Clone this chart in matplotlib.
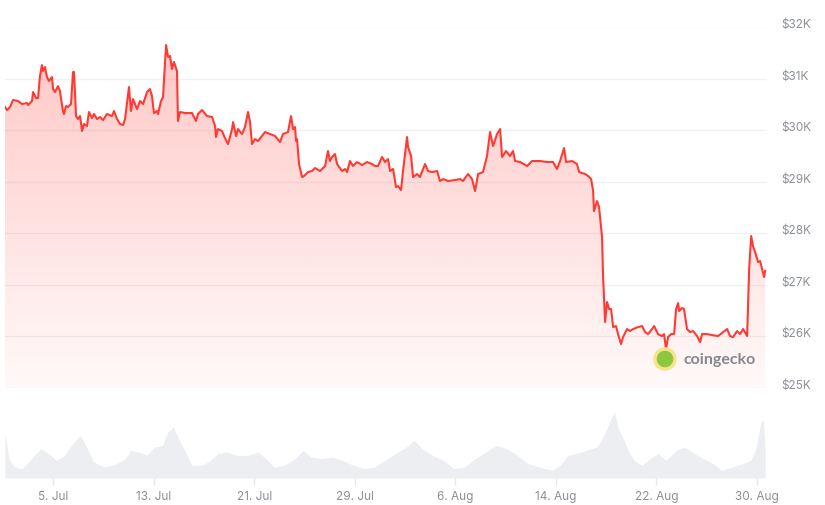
#!/usr/bin/env python3
"""
BTC 价格走势图（coingecko 风格）：上方价格折线 + 渐变填充，下方成交量面积图
"""

# ============================================================================
# 配置区域
# ============================================================================

OUTPUT_FILE = "out.png"
FIG_SIZE = (8.25, 5.06)
DPI = 100

LINE_COLOR = "#ff3a33"
GRID_COLOR = "#f1f1f3"
VOLUME_COLOR = "#eceef2"
TEXT_COLOR = "#8b8f97"
FONT = ["Inter", "DejaVu Sans"]

Y_MIN, Y_MAX = 25000, 32000
START_DATE = "2023-07-01"

# ============================================================================
# 数据
# ============================================================================

# 价格：距 7 月 1 日 00:00 的天数
price_days = [
    0.18, 0.34, 0.58, 0.82, 1.21, 1.53, 1.93, 2.01, 2.33, 2.41, 2.65, 2.81, 2.96, 3.12,
    3.20, 3.36, 3.52, 3.68, 3.92, 4.00, 4.16, 4.40, 4.55, 4.79, 4.87, 5.03, 5.19, 5.43,
    5.59, 5.67, 5.83, 5.99, 6.15, 6.31, 6.46, 6.70, 6.86, 7.10, 7.26, 7.50, 7.74, 7.98,
    8.29, 8.69, 8.85, 9.09, 9.33, 9.57, 9.73, 10.04, 10.20, 10.36, 10.68, 10.92, 11.16,
    11.48, 11.71, 11.87, 12.03, 12.27, 12.35, 12.59, 12.75, 12.91, 12.99, 13.15, 13.31,
    13.46, 13.62, 13.86, 13.94, 14.10, 14.50, 15.06, 15.37, 15.53, 15.85, 16.25, 16.65,
    16.89, 16.96, 17.12, 17.44, 17.68, 17.92, 18.24, 18.32, 18.56, 18.71, 19.03, 19.27,
    19.51, 19.67, 19.83, 20.07, 20.31, 20.62, 20.86, 21.26, 21.66, 22.06, 22.29, 22.69,
    22.93, 23.09, 23.25, 23.33, 23.41, 23.57, 23.81, 23.97, 24.28, 24.60, 24.84, 25.24,
    25.64, 25.87, 26.03, 26.19, 26.43, 26.59, 26.99, 27.23, 27.39, 27.62, 27.86, 28.18,
    28.58, 28.98, 29.37, 29.61, 29.85, 30.17, 30.41, 30.65, 30.81, 31.05, 31.28, 31.44,
    31.68, 31.84, 32.16, 32.24, 32.48, 32.64, 32.96, 33.19, 33.59, 33.83, 34.15, 34.55,
    34.78, 35.02, 35.42, 35.98, 36.38, 36.61, 37.01, 37.33, 37.57, 37.81, 38.20, 38.52,
    38.76, 39.00, 39.32, 39.56, 39.72, 40.03, 40.35, 40.59, 40.75, 41.15, 41.71, 42.10,
    42.74, 43.30, 43.77, 44.09, 44.33, 44.65, 44.81, 45.29, 45.68, 45.84, 46.32, 46.56,
    46.80, 46.96, 47.03, 47.27, 47.43, 47.67, 47.75, 47.91, 48.07, 48.23, 48.39, 48.55,
    48.78, 48.94, 49.18, 49.34, 49.66, 49.90, 50.14, 50.53, 50.85, 51.09, 51.33, 51.65,
    51.81, 52.12, 52.44, 52.60, 52.76, 52.92, 53.16, 53.40, 53.56, 53.72, 53.80, 54.03,
    54.19, 54.43, 54.67, 54.91, 55.23, 55.47, 55.62, 56.02, 56.42, 56.90, 57.30, 57.62,
    57.85, 58.09, 58.41, 58.65, 58.89, 59.21, 59.37, 59.53, 59.68, 59.84, 60.08, 60.24,
    60.40, 60.56, 60.64,
]

prices = [
    30456, 30397, 30456, 30592, 30572, 30514, 30533, 30494, 30572, 30747, 30630, 30630,
    31058, 31271, 31155, 31232, 31038, 30961, 31038, 30805, 30747, 30863, 30766, 30378,
    30320, 30475, 30456, 30514, 31135, 31135, 30281, 30223, 30281, 29990, 30126, 30087,
    30359, 30242, 30320, 30223, 30261, 30203, 30320, 30281, 30378, 30223, 30126, 30106,
    30223, 30844, 30378, 30611, 30417, 30572, 30514, 30747, 30805, 30669, 30339, 30378,
    30320, 30572, 30650, 31330, 31660, 31427, 31446, 31194, 31330, 31155, 30184, 30359,
    30339, 30339, 30184, 30320, 30397, 30281, 30261, 30087, 29873, 30028, 29990, 29854,
    29737, 30028, 30164, 29892, 30028, 29931, 30067, 30359, 30164, 29737, 29834, 29795,
    29892, 29970, 29931, 29892, 29776, 29931, 29970, 30281, 30028, 30067, 29795, 29834,
    29349, 29096, 29116, 29193, 29213, 29271, 29213, 29310, 29601, 29407, 29485, 29543,
    29349, 29213, 29252, 29193, 29407, 29310, 29388, 29329, 29388, 29349, 29310, 29310,
    29485, 29388, 29446, 29213, 29252, 28902, 28921, 28844, 29213, 29873, 29679, 29504,
    29096, 29155, 29096, 29349, 29213, 29193, 29213, 29019, 29057, 29019, 29038, 29057,
    29019, 29155, 29057, 28824, 29155, 29193, 29504, 29970, 29698, 29931, 30028, 29485,
    29601, 29504, 29601, 29407, 29388, 29310, 29407, 29407, 29388, 29388, 29252, 29407,
    29659, 29388, 29407, 29349, 29193, 29155, 29116, 29057, 28824, 28436, 28630, 28514,
    27931, 27174, 26280, 26669, 26533, 26533, 26183, 26203, 26047, 25853, 25989, 26145,
    26106, 26145, 26183, 26203, 26086, 26047, 26145, 26203, 26047, 26008, 26047, 25756,
    25989, 26047, 26047, 26533, 26649, 26494, 26552, 26533, 26145, 26086, 26106, 26008,
    25892, 26047, 26047, 26028, 26008, 26086, 26145, 26008, 25989, 26106, 26047, 26145,
    26008, 27310, 27951, 27756, 27640, 27446, 27465, 27310, 27155, 27271,
]

# 成交量（十亿美元）
volume_days = [
    0.18, 0.49, 0.91, 1.55, 2.18, 3.02, 3.65, 4.29, 4.92, 5.55, 6.18, 6.60, 7.24, 8.08,
    8.92, 9.76, 10.19, 10.82, 11.45, 12.08, 12.71, 13.14, 13.56, 13.98, 14.40, 15.03,
    15.87, 16.51, 17.14, 17.77, 18.61, 19.46, 20.30, 20.93, 21.56, 22.41, 23.25, 23.88,
    24.51, 25.36, 26.20, 27.04, 27.88, 28.73, 29.57, 30.41, 31.26, 32.10, 32.73, 33.36,
    34.21, 35.05, 35.89, 36.73, 37.58, 38.42, 39.26, 40.10, 40.95, 41.79, 42.63, 43.69,
    44.32, 44.95, 45.58, 46.43, 47.27, 47.90, 48.32, 48.66, 48.95, 49.38, 49.80, 50.22,
    50.85, 51.48, 52.12, 52.75, 53.59, 54.22, 54.85, 55.70, 56.54, 57.17, 58.01, 58.86,
    59.49, 59.91, 60.30, 60.50, 60.64,
]

volumes = [
    20.9, 8.8, 5.0, 4.2, 8.0, 13.3, 11.0, 8.0, 10.3, 15.6, 19.4, 14.8, 7.3, 5.0, 6.1, 8.8,
    12.6, 11.8, 10.3, 14.1, 14.8, 20.9, 23.2, 17.9, 13.3, 5.8, 5.8, 8.0, 11.1, 11.8, 10.3,
    10.3, 11.8, 8.8, 5.0, 5.8, 8.8, 12.6, 9.5, 8.8, 9.5, 8.0, 5.8, 4.2, 5.0, 8.0, 11.1,
    14.1, 17.1, 13.3, 10.3, 8.0, 4.2, 5.0, 8.8, 11.8, 14.8, 13.3, 10.3, 6.5, 5.0, 3.5,
    5.8, 10.3, 11.1, 12.6, 14.1, 20.2, 26.2, 30.0, 22.4, 17.9, 11.8, 8.0, 5.8, 8.8, 11.1,
    8.0, 12.6, 14.1, 11.8, 8.8, 6.5, 3.5, 5.0, 6.5, 8.0, 13.3, 25.5, 26.2, 13.3,
]

# 坐标轴刻度
price_ticks = [25000, 26000, 27000, 28000, 29000, 30000, 31000, 32000]
date_ticks = ["2023-07-05", "2023-07-13", "2023-07-21", "2023-07-29",
              "2023-08-06", "2023-08-14", "2023-08-22", "2023-08-30"]

# ============================================================================

import numpy as np
import pandas as pd
import matplotlib
matplotlib.use("Agg")
import matplotlib.pyplot as plt
import matplotlib.dates as mdates
import matplotlib.transforms as mtransforms
from matplotlib.colors import to_rgb
from matplotlib.patches import Circle
from matplotlib.ticker import FuncFormatter


def to_dates(days):
    """天数偏移 -> matplotlib 日期数值"""
    base = mdates.date2num(pd.Timestamp(START_DATE))
    return base + np.asarray(days)


def main():
    plt.rcParams["font.family"] = FONT

    fig = plt.figure(figsize=FIG_SIZE, dpi=DPI)
    ax = fig.add_axes([5 / 825, 1 - 389 / 506, 762 / 825, 360.5 / 506])
    ax_vol = fig.add_axes([5 / 825, 1 - 479 / 506, 762 / 825, 79 / 506], sharex=ax)

    x = to_dates(price_days)
    xv = to_dates(volume_days)
    x0, x1 = x[0], x[-1] + 0.15

    # 价格折线 + 渐变填充
    fill = ax.fill_between(x, prices, Y_MIN, color="none", lw=0)
    rgba = np.zeros((256, 1, 4))
    rgba[..., :3] = to_rgb(LINE_COLOR)
    rgba[..., 3] = np.linspace(0.03, 0.29, 256)[:, None]
    im = ax.imshow(rgba, extent=[x0, x1, Y_MIN, Y_MAX], origin="lower",
                   aspect="auto", zorder=1, interpolation="bilinear")
    im.set_clip_path(fill.get_paths()[0], transform=ax.transData)
    ax.plot(x, prices, color=LINE_COLOR, lw=1.5, zorder=3, solid_joinstyle="round")

    ax.set_xlim(x0, x1)
    ax.set_ylim(Y_MIN, Y_MAX)
    ax.set_yticks(price_ticks)
    ax.yaxis.tick_right()
    ax.yaxis.set_major_formatter(FuncFormatter(lambda v, _: f"${int(v / 1000)}K"))
    ax.tick_params(axis="y", length=0, pad=10.5, labelsize=8.5, labelcolor=TEXT_COLOR)
    ax.tick_params(axis="x", length=0, labelbottom=False)
    # 价格标签略高于网格线
    shift = mtransforms.ScaledTranslation(0, 4.5 / 100, fig.dpi_scale_trans)
    for lbl in ax.get_yticklabels():
        lbl.set_transform(lbl.get_transform() + shift)
    ax.grid(True, axis="y", color=GRID_COLOR, lw=1, zorder=0)
    ax.set_axisbelow(True)
    for s in ax.spines.values():
        s.set_visible(False)

    # 成交量
    ax_vol.fill_between(xv, volumes, 0, color=VOLUME_COLOR, lw=0)
    ax_vol.set_ylim(0, 35.9)
    ax_vol.set_yticks([])
    ax_vol.set_xticks(mdates.date2num(pd.to_datetime(date_ticks)))
    ax_vol.xaxis.set_major_formatter(
        FuncFormatter(lambda v, _: f"{mdates.num2date(v).day}. {mdates.num2date(v):%b}"))
    ax_vol.tick_params(axis="x", length=5, width=1, color="#e6e8eb", pad=4,
                       labelsize=8.5, labelcolor=TEXT_COLOR)
    for s in ax_vol.spines.values():
        s.set_visible(False)
    ax_vol.set_xlim(x0, x1)

    # coingecko 水印
    logo_t = fig.dpi_scale_trans
    fig.patches.append(Circle((665 / 100, (506 - 360) / 100), 0.1, transform=logo_t,
                              facecolor="#8dc63f", edgecolor="#f9e38a", lw=2.5, zorder=5))
    fig.text(683 / 825, 1 - 360 / 506, "coingecko", fontsize=11.5, fontweight="bold",
             color="#85888d", va="center", ha="left", family=["Lato", "DejaVu Sans"])

    fig.savefig(OUTPUT_FILE, dpi=DPI)
    plt.close(fig)


if __name__ == "__main__":
    main()
